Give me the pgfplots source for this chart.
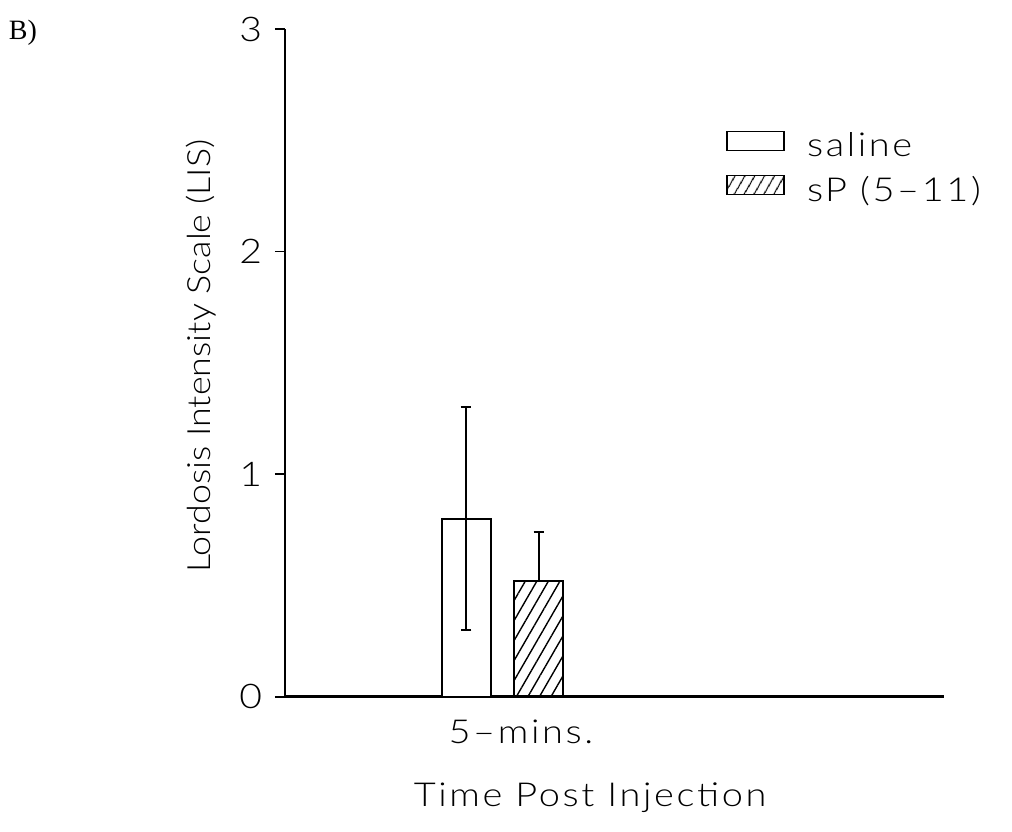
\documentclass[border=0pt]{standalone}
\usepackage{fontspec}
\setmainfont{Lato Light}[FakeStretch=1.15, LetterSpace=8]
\newfontfamily\ylabfont{Lato Light}[FakeStretch=1.12]
\newfontfamily\serifB{Liberation Serif}
\usepackage{pgfplots}
\pgfplotsset{compat=1.18}
\usetikzlibrary{patterns.meta}
\begin{document}
\begin{tikzpicture}
\useasboundingbox (-142.5pt,-67.15pt) rectangle (363.5pt,348.35pt);
\begin{axis}[
  at={(0pt,0pt)}, anchor=south west,
  scale only axis, width=329.5pt, height=333.85pt,
  xmin=0, xmax=10, ymin=0, ymax=3,
  axis x line=bottom, axis y line=left,
  axis line style={-},
  x axis line style={line width=1.4pt},
  y axis line style={line width=0.8pt},
  ytick={0,1,2,3}, xtick={3.58}, xticklabels={5–mins.},
  tick align=outside, major tick length=5pt,
  xtick style={draw=none},
  ytick style={line width=0.8pt, black},
  tick label style={font=\fontsize{17}{19}\selectfont},
  yticklabel style={xshift=-3pt},
  xticklabel style={yshift=-3pt, font=\fontsize{16.5}{18}\selectfont},
  /pgf/number format/assume math mode=true,
  xlabel={Time Post Injection},
  ylabel={Lordosis Intensity Scale (LIS)},
  xlabel style={font=\fontsize{16.5}{18}\selectfont, at={(axis description cs:0.463,-0.1517)}, anchor=center},
  ylabel style={font=\ylabfont\fontsize{16}{18}\selectfont, at={(axis description cs:-0.1275,0.510)}, anchor=center},
  legend style={at={(axis description cs:0.669,0.851)}, anchor=north west, draw=none, fill=none,
    font=\fontsize{16.5}{18}\selectfont, row sep=4.2pt, inner sep=0pt},
  legend cell align=left,
]
\addplot[ybar, bar width=0.744, bar shift=0pt, draw=black, line width=1pt, fill=white,
  legend image code/.code={\draw[draw=black, fill=white, line width=0.8pt] (0pt,-2pt) rectangle (28.5pt,7.5pt); \path (37.5pt,0pt);},
  error bars/.cd, y dir=both, y explicit,
  error bar style={line width=0.8pt, black},
  error mark options={rotate=90, black, mark size=2.7pt, line width=1.1pt}]
  coordinates {(2.747,0.8) +- (0,0.5)};
\addlegendentry{saline}
\addplot[ybar, bar width=0.744, bar shift=0pt, draw=black, line width=1pt,
  pattern={Lines[angle=60, distance=5pt, line width=0.7pt]}, pattern color=black,
  legend image code/.code={\draw[draw=black, line width=0.8pt, pattern={Lines[angle=60, distance=4pt, line width=0.6pt]}, pattern color=black] (0pt,-2pt) rectangle (28.5pt,7.5pt); \path (37.5pt,0pt);},
  error bars/.cd, y dir=plus, y explicit,
  error bar style={line width=0.8pt, black},
  error mark options={rotate=90, black, mark size=2.7pt, line width=1.1pt}]
  coordinates {(3.854,0.52) +- (0,0.22)};
\addlegendentry{sP (5–11)}
\end{axis}
\node[font=\serifB\fontsize{14}{16}\selectfont] at (-131pt,331.85pt) {B)};
\end{tikzpicture}
\end{document}
